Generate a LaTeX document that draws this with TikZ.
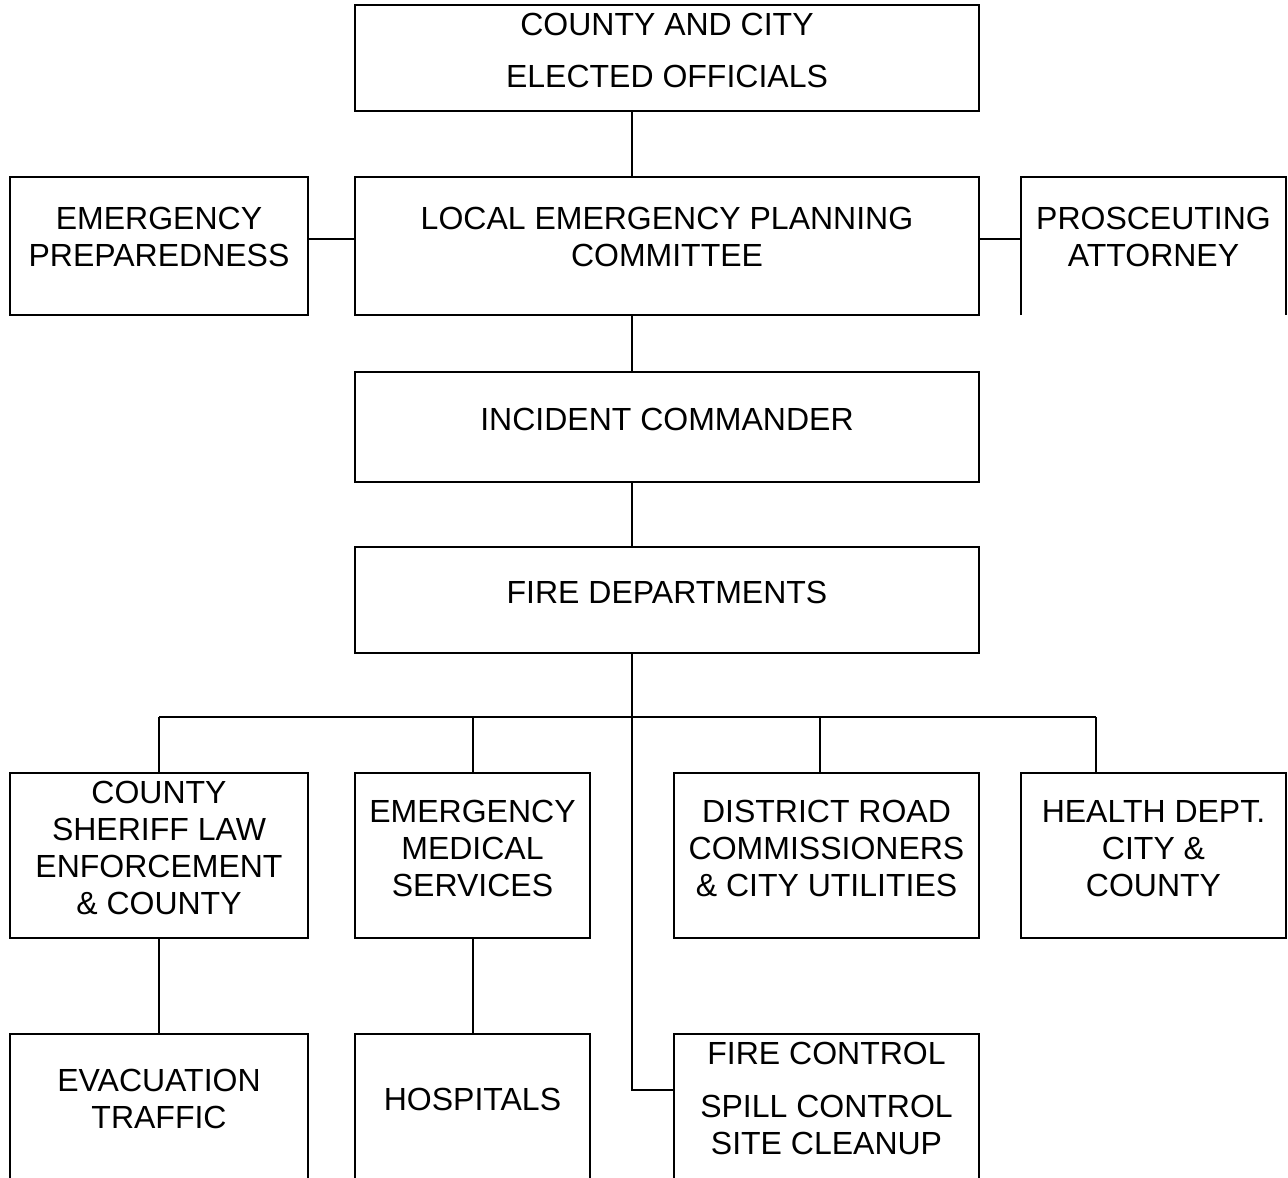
\documentclass[tikz,border=0pt]{standalone}
\usepackage{fontspec}
\setmainfont{Liberation Sans}
\begin{document}
\begin{tikzpicture}[x=1pt,y=-1pt,
  box/.style={draw=black,line width=2pt,rectangle,inner sep=0pt,fill=none},
  openbox/.style={rectangle,inner sep=0pt,draw=none},
  lbl/.style={inner sep=0pt,align=center,font=\fontsize{32}{37}\selectfont,text depth=0pt},
  conn/.style={draw=black,line width=2pt}]
\useasboundingbox (0,0) rectangle (1288,1178);
\clip (0,0) rectangle (1288,1178);
\fill[white] (0,0) rectangle (1288,1178);
% boxes
\node[box,minimum width=624pt,minimum height=106pt] (top) at (667,58) {};
\node[box,minimum width=624pt,minimum height=138pt] (lepc) at (667,246) {};
\node[box,minimum width=298pt,minimum height=138pt] (ep) at (159,246) {};
\node[openbox,minimum width=265pt,minimum height=138pt] (pa) at (1153.5,246) {};
\draw[conn] (pa.south west) -- (pa.north west) -- (pa.north east) -- (pa.south east);
\node[box,minimum width=624pt,minimum height=110pt] (ic) at (667,427) {};
\node[box,minimum width=624pt,minimum height=106pt] (fd) at (667,600) {};
\node[box,minimum width=298pt,minimum height=165pt] (sheriff) at (159,855.5) {};
\node[box,minimum width=235pt,minimum height=165pt] (ems) at (472.5,855.5) {};
\node[box,minimum width=305pt,minimum height=165pt] (drc) at (826.5,855.5) {};
\node[box,minimum width=265pt,minimum height=165pt] (health) at (1153.5,855.5) {};
\node[box,minimum width=298pt,minimum height=186pt] (evac) at (159,1127) {};
\node[box,minimum width=235pt,minimum height=186pt] (hosp) at (472.5,1127) {};
\node[box,minimum width=305pt,minimum height=186pt] (fc) at (826.5,1127) {};
% labels
\node[lbl] (t1) at (667,24) {COUNTY AND CITY};
\node[lbl] (t2) at (667,76) {ELECTED OFFICIALS};
\node[lbl] (epl) at (159,237) {EMERGENCY\\PREPAREDNESS};
\node[lbl] (lepcl) at (667,237) {LOCAL EMERGENCY PLANNING\\COMMITTEE};
\node[lbl] (pal) at (1153.5,237) {PROSCEUTING\\ATTORNEY};
\node[lbl] (icl) at (667,419) {INCIDENT COMMANDER};
\node[lbl] (fdl) at (667,592) {FIRE DEPARTMENTS};
\node[lbl] (shl) at (159,848) {COUNTY\\SHERIFF LAW\\ENFORCEMENT\\\& COUNTY};
\node[lbl] (emsl) at (472.5,848) {EMERGENCY\\MEDICAL\\SERVICES};
\node[lbl] (drcl) at (826.5,848) {DISTRICT ROAD\\COMMISSIONERS\\\& CITY UTILITIES};
\node[lbl] (hel) at (1153.5,848) {HEALTH DEPT.\\CITY \&\\COUNTY};
\node[lbl] (evl) at (159,1098.5) {EVACUATION\\TRAFFIC};
\node[lbl] (hol) at (472.5,1099) {HOSPITALS};
\node[lbl] (fc1) at (826.5,1053) {FIRE CONTROL};
\node[lbl] (fc2) at (826.5,1125) {SPILL CONTROL\\SITE CLEANUP};
% coordinates
\coordinate (spine) at (632,717);
\coordinate (side) at (0,239);
\coordinate (drop3) at (820,717);
\coordinate (drop4) at (1096,717);
\coordinate (fcy) at (0,1090);
% connectors
\draw[conn] (top.south -| spine) -- (lepc.north -| spine);
\draw[conn] (ep.east |- side) -- (lepc.west |- side);
\draw[conn] (lepc.east |- side) -- (pa.west |- side);
\draw[conn] (lepc.south -| spine) -- (ic.north -| spine);
\draw[conn] (ic.south -| spine) -- (fd.north -| spine);
\draw[conn] (fd.south -| spine) -- (spine) -- (spine |- fcy) -- (fc.west |- fcy);
\draw[conn] (sheriff.north |- spine) -- (drop4);
\draw[conn] (sheriff.north |- spine) -- (sheriff.north);
\draw[conn] (ems.north |- spine) -- (ems.north);
\draw[conn] (drop3) -- (drc.north -| drop3);
\draw[conn] (drop4) -- (health.north -| drop4);
\draw[conn] (sheriff.south) -- (evac.north);
\draw[conn] (ems.south) -- (hosp.north);
\end{tikzpicture}
\end{document}
